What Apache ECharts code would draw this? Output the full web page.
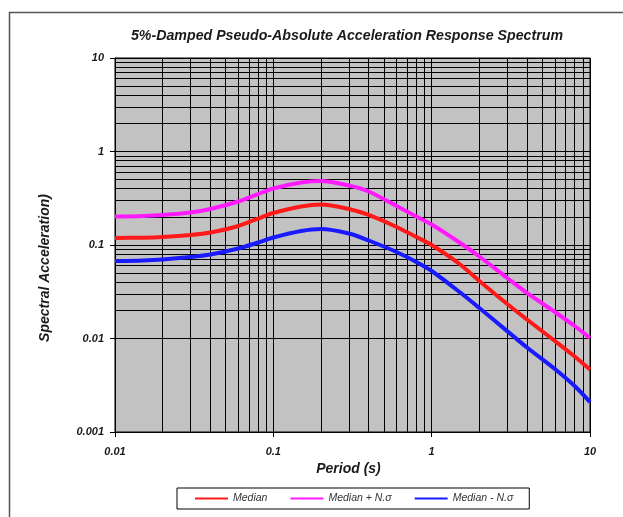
<!DOCTYPE html>
<html>
<head>
<meta charset="utf-8">
<script src="https://cdn.jsdelivr.net/npm/echarts@6/dist/echarts.min.js"></script>
<style>html,body{margin:0;padding:0;background:#fff;}#c{width:623px;height:517px;}</style>
</head>
<body>
<div id="c"></div>
<script>
// ---- data ----
var periods = [0.01, 0.015, 0.02, 0.03, 0.04, 0.06, 0.08, 0.1, 0.15, 0.2, 0.3, 0.4, 0.6, 0.8, 1, 1.5, 2, 3, 4, 6, 8, 10];
var median = [0.1188, 0.1197, 0.1218, 0.1279, 0.1360, 0.1597, 0.1920, 0.2199, 0.2581, 0.2711, 0.2427, 0.2094, 0.1558, 0.1218, 0.100, 0.0626, 0.0412, 0.0234, 0.01596, 0.00940, 0.00642, 0.00466];
var medianPlus = [0.2017, 0.2042, 0.2094, 0.2227, 0.2427, 0.2919, 0.3511, 0.4020, 0.4660, 0.4836, 0.4328, 0.3734, 0.2613, 0.2017, 0.1657, 0.1063, 0.0753, 0.0444, 0.0307, 0.0192, 0.0136, 0.01012];
var medianMinus = [0.0674, 0.0683, 0.0700, 0.0744, 0.0791, 0.0918, 0.1063, 0.1203, 0.1411, 0.1483, 0.1327, 0.1117, 0.0842, 0.0658, 0.0527, 0.0314, 0.0212, 0.0120, 0.00801, 0.00472, 0.00310, 0.00209];
var seriesNames = ['Median', 'Median + N.\u03c3', 'Median - N.\u03c3'];
var minorX = [0.02,0.03,0.04,0.05,0.06,0.07,0.08,0.09,0.2,0.3,0.4,0.5,0.6,0.7,0.8,0.9,2,3,4,5,6,7,8,9];
var minorY = [0.002,0.003,0.004,0.005,0.006,0.007,0.008,0.009,0.02,0.03,0.04,0.05,0.06,0.07,0.08,0.09,0.2,0.3,0.4,0.5,0.6,0.7,0.8,0.9,2,3,4,5,6,7,8,9];
var titleText = '5%-Damped Pseudo-Absolute Acceleration Response Spectrum';
var xTitle = 'Period (s)';
var yTitle = 'Spectral Acceleration)';

function pairs(ys){ return periods.map(function(p,i){ return [p, ys[i]]; }); }

var gridLines = minorX.map(function(v){ return {xAxis: v}; })
  .concat(minorY.map(function(v){ return {yAxis: v}; }));

var FONT = '"Liberation Sans", Arial, sans-serif';
var chart = echarts.init(document.getElementById('c'), null, {renderer: 'canvas'});
function curve(name, ys, col){
  return {name: name, type: 'line', data: pairs(ys), smooth: 0.3,
    showSymbol: false, z: 5, color: col, lineStyle: {width: 4, color: col}};
}
chart.setOption({
  animation: false,
  backgroundColor: '#ffffff',
  title: {
    text: titleText, left: 342, top: 24, textAlign: 'center',
    textStyle: {fontFamily: FONT, fontSize: 14.2, fontWeight: 'bold', fontStyle: 'italic', color: '#1a1a1a'}
  },
  graphic: [{
    type: 'rect', left: 7, top: 10, z: -10,
    shape: {width: 700, height: 600},
    style: {fill: 'none', stroke: '#555', lineWidth: 1.5}
  }, {
    type: 'text', x: 45, y: 268, rotation: Math.PI / 2,
    style: {text: yTitle, textAlign: 'center', textVerticalAlign: 'middle',
      font: 'italic bold 14px "Liberation Sans", Arial, sans-serif', fill: '#1a1a1a'}
  }],
  grid: {
    left: 115, right: 33, top: 58, bottom: 85,
    show: true, backgroundColor: '#c2c2c2', borderColor: '#000', borderWidth: 1
  },
  legend: {
    left: 177, top: 488, width: 351,
    data: seriesNames,
    icon: 'rect', itemWidth: 33, itemHeight: 2, itemGap: 23,
    borderColor: '#000', borderWidth: 1, backgroundColor: '#fff',
    padding: [5, 16, 5, 18],
    textStyle: {fontFamily: FONT, fontSize: 10.5, fontStyle: 'italic', color: '#333'}
  },
  xAxis: {
    type: 'log', logBase: 10, min: 0.01, max: 10,
    name: xTitle, nameLocation: 'middle', nameGap: 25,
    nameTextStyle: {fontFamily: FONT, fontSize: 14, fontWeight: 'bold', fontStyle: 'italic', color: '#1a1a1a', padding: [0, 8, 0, 0]},
    axisLine: {show: true, onZero: false, lineStyle: {color: '#000', width: 1}},
    axisTick: {show: true, inside: false, length: 5, lineStyle: {color: '#000'}},
    axisLabel: {fontFamily: FONT, fontSize: 11, fontWeight: 'bold', fontStyle: 'italic', color: '#1a1a1a', margin: 14,
      formatter: function(v){ return String(+v.toPrecision(3)); }},
    splitLine: {show: true, lineStyle: {color: '#000', width: 1}}
  },
  yAxis: {
    type: 'log', logBase: 10, min: 0.001, max: 10,
    axisLine: {show: true, onZero: false, lineStyle: {color: '#000', width: 1}},
    axisTick: {show: true, inside: false, length: 5, lineStyle: {color: '#000'}},
    axisLabel: {fontFamily: FONT, fontSize: 11, fontWeight: 'bold', fontStyle: 'italic', color: '#1a1a1a', margin: 11,
      formatter: function(v){ return String(+v.toPrecision(3)); }},
    splitLine: {show: true, lineStyle: {color: '#000', width: 1}}
  },
  series: [{
    name: '__grid', type: 'line', data: pairs(median), z: 1, silent: true,
    showSymbol: false, lineStyle: {opacity: 0}, legendHoverLink: false,
    markLine: {silent: true, symbol: 'none', label: {show: false}, animation: false,
      lineStyle: {type: 'solid', color: '#000', width: 1}, emphasis: {disabled: true},
      data: gridLines}
  },
    curve(seriesNames[0], median, '#ff1a1a'),
    curve(seriesNames[1], medianPlus, '#ff1aff'),
    curve(seriesNames[2], medianMinus, '#1a1aff')
  ]
});
</script>
</body>
</html>
